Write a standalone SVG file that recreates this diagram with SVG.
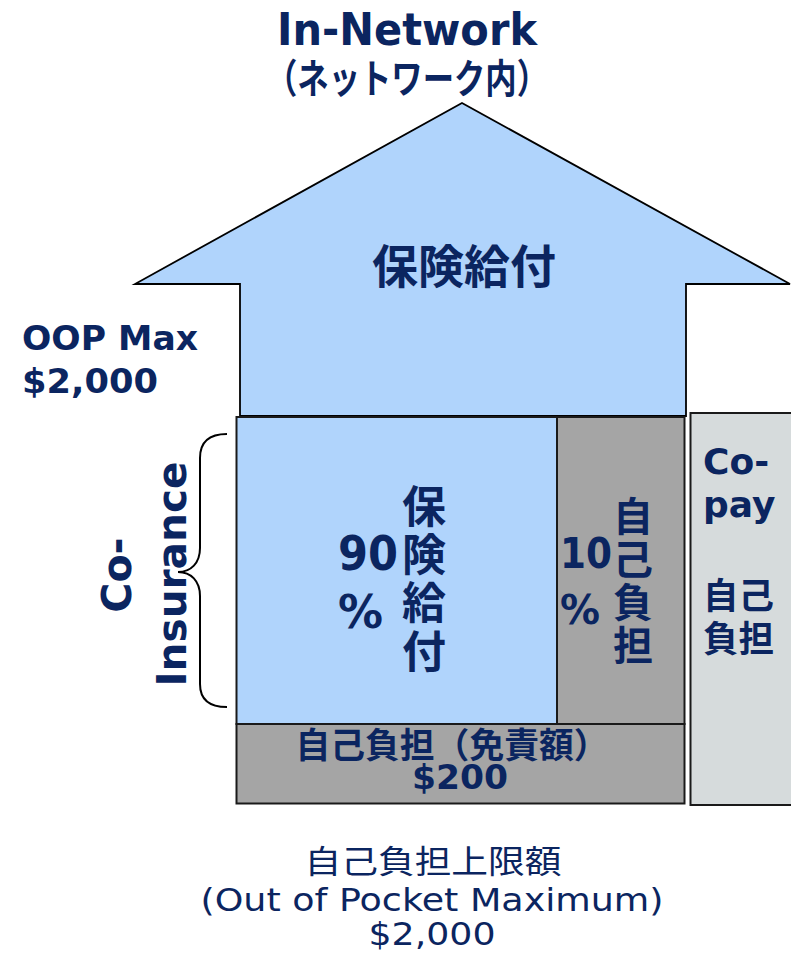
<svg xmlns="http://www.w3.org/2000/svg" width="791" height="954" viewBox="0 0 791 954">
<style>
.t{fill:#0b2560;font-family:"DejaVu Sans","Noto Sans CJK JP",sans-serif;font-weight:bold}
.j{fill:#0b2560;font-family:"Noto Sans CJK JP",sans-serif;font-weight:bold}
.r{fill:#0b2560;font-family:"DejaVu Sans","Noto Sans CJK JP",sans-serif;font-weight:normal}
.rj{fill:#0b2560;font-family:"Noto Sans CJK JP",sans-serif;font-weight:normal}
.box{stroke:#1a1a1a;stroke-width:2}
</style>
<rect width="791" height="954" fill="#ffffff"/>
<g id="title">
<text class="t" x="407" y="45" font-size="44" text-anchor="middle" textLength="260" lengthAdjust="spacingAndGlyphs">In-Network</text>
<text class="j" x="407" y="93" font-size="40" text-anchor="middle" textLength="282" lengthAdjust="spacingAndGlyphs">（ネットワーク内）</text>
</g>
<g id="arrow">
<polygon points="462,103 790,284 686,284 686,416 240,416 240,284 135,284" fill="#b0d4fc" stroke="#000" stroke-width="1.8" stroke-linejoin="miter"/>
<text class="j" x="464" y="283" font-size="46" text-anchor="middle">保険給付</text>
</g>
<g id="oop">
<text class="t" x="22" y="350" font-size="34" textLength="176" lengthAdjust="spacingAndGlyphs">OOP Max</text>
<text class="t" x="22" y="393" font-size="34" textLength="136" lengthAdjust="spacingAndGlyphs">$2,000</text>
</g>
<g id="insurance90">
<rect class="box" x="236.5" y="417" width="320.5" height="307" fill="#b0d4fc"/>
<text class="t" x="338" y="570" font-size="48" textLength="60" lengthAdjust="spacingAndGlyphs">90</text>
<text class="t" x="338" y="628" font-size="46" textLength="45" lengthAdjust="spacingAndGlyphs">%</text>
<text class="j" x="424" y="523" font-size="44" text-anchor="middle">保</text>
<text class="j" x="424" y="571" font-size="44" text-anchor="middle">険</text>
<text class="j" x="424" y="619" font-size="44" text-anchor="middle">給</text>
<text class="j" x="424" y="668" font-size="44" text-anchor="middle">付</text>
</g>
<g id="self10">
<rect class="box" x="557" y="417" width="127.5" height="307" fill="#a5a5a5"/>
<text class="t" x="560" y="568" font-size="42" textLength="52" lengthAdjust="spacingAndGlyphs">10</text>
<text class="t" x="560" y="624" font-size="40" textLength="40" lengthAdjust="spacingAndGlyphs">%</text>
<text class="j" x="633" y="531" font-size="40" text-anchor="middle">自</text>
<text class="j" x="633" y="574" font-size="40" text-anchor="middle">己</text>
<text class="j" x="633" y="617" font-size="40" text-anchor="middle">負</text>
<text class="j" x="633" y="660" font-size="40" text-anchor="middle">担</text>
</g>
<g id="deductible">
<rect class="box" x="236.5" y="724" width="448" height="79.5" fill="#a5a5a5"/>
<text class="j" x="452" y="758" font-size="35" text-anchor="middle" textLength="313" lengthAdjust="spacingAndGlyphs">自己負担（免責額）</text>
<text class="t" x="460" y="789" font-size="34" text-anchor="middle" textLength="96" lengthAdjust="spacingAndGlyphs">$200</text>
</g>
<g id="copay">
<rect class="box" x="690.5" y="413" width="104" height="392" fill="#d6dbdc"/>
<text class="t" x="703" y="474" font-size="36">Co-</text>
<text class="t" x="703" y="517" font-size="36">pay</text>
<text class="j" x="703" y="609" font-size="36" textLength="71" lengthAdjust="spacingAndGlyphs">自己</text>
<text class="j" x="703" y="652" font-size="36" textLength="71" lengthAdjust="spacingAndGlyphs">負担</text>
</g>
<g id="connectors">
<path d="M227,434 C210,434 200,441 200,458 L200,548 C200,563 191,572 178,572 C191,572 200,581 200,596 L200,684 C200,700 210,707 227,707" fill="none" stroke="#000" stroke-width="2"/>
</g>
<g id="coinsurance-label">
<text class="t" transform="translate(131,575) rotate(-90)" font-size="41" text-anchor="middle">Co-</text>
<text class="t" transform="translate(186,574) rotate(-90)" font-size="41" text-anchor="middle" textLength="225" lengthAdjust="spacingAndGlyphs">Insurance</text>
</g>
<g id="oop-caption">
<text class="rj" x="433" y="873" font-size="32" text-anchor="middle" textLength="257" lengthAdjust="spacingAndGlyphs">自己負担上限額</text>
<text class="r" x="432" y="911" font-size="32" text-anchor="middle" textLength="463" lengthAdjust="spacingAndGlyphs">(Out of Pocket Maximum)</text>
<text class="r" x="432" y="945" font-size="32" text-anchor="middle" textLength="127" lengthAdjust="spacingAndGlyphs">$2,000</text>
</g>
</svg>
